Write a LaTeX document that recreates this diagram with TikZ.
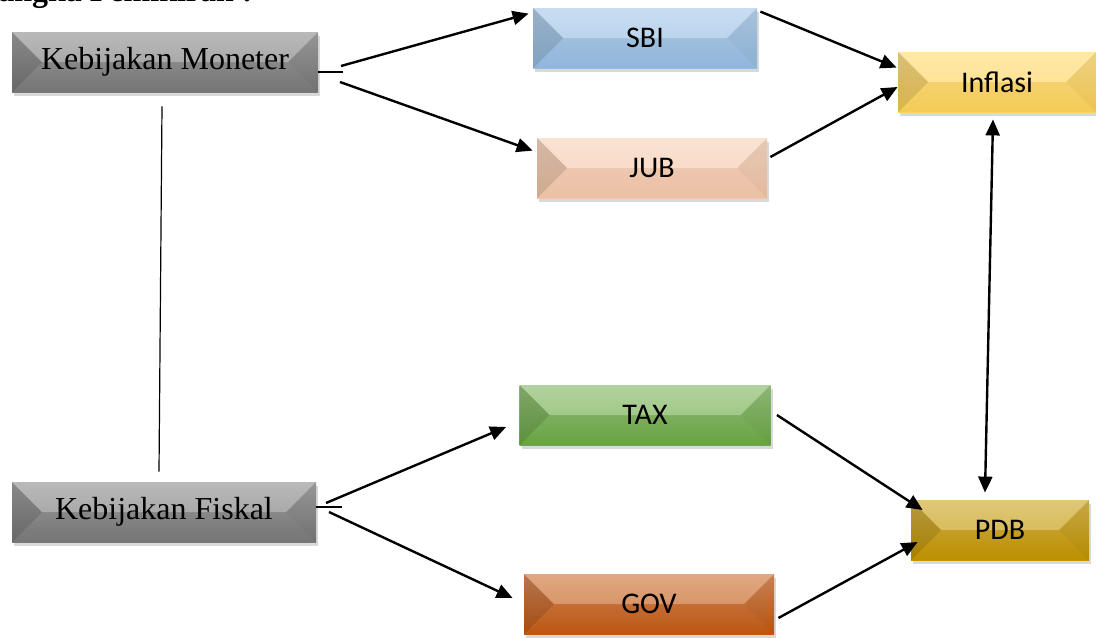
\documentclass[tikz,border=0pt]{standalone}
\usepackage{fontspec}
\setmainfont{Liberation Serif}
\newfontfamily\calibri{Carlito}
\usetikzlibrary{arrows.meta,shadows}
\definecolor{grayc}{RGB}{122,122,122}
\definecolor{sbic}{RGB}{150,190,228}
\definecolor{jubc}{RGB}{246,200,170}
\definecolor{infc}{RGB}{255,212,90}
\definecolor{taxc}{RGB}{108,170,70}
\definecolor{govc}{RGB}{196,90,20}
\definecolor{pdbc}{RGB}{196,150,0}
\begin{document}
\begin{tikzpicture}[x=0.5pt,y=-0.5pt,
  bevel/.style={inner sep=0pt, minimum height=30pt, top color=#1!70!white, bottom color=#1,
    drop shadow={shadow xshift=1pt, shadow yshift=-2pt, opacity=.25, fill=black!60},
    path picture={
      \fill[black,opacity=.15] (path picture bounding box.north west) -- ++(15pt,-15pt) -- (path picture bounding box.south west) -- cycle;
      \fill[black,opacity=.07] (path picture bounding box.north east) -- ++(-15pt,-15pt) -- (path picture bounding box.south east) -- cycle;
      \fill[white,opacity=.25] (path picture bounding box.north west) -- ++(15pt,-15pt) -- ([xshift=-15pt,yshift=-15pt]path picture bounding box.north east) -- (path picture bounding box.north east) -- cycle;
      \fill[black,opacity=.04] (path picture bounding box.south west) -- ++(15pt,15pt) -- ([xshift=-15pt,yshift=15pt]path picture bounding box.south east) -- (path picture bounding box.south east) -- cycle;
    }},
  serifbox/.style={bevel=grayc, font=\fontsize{16}{19}\selectfont},
  sansbox/.style={bevel=#1, font=\calibri\fontsize{15}{18}\selectfont},
  arr/.style={line width=1.2pt, -{Triangle[length=8pt,width=7pt]}},
  dblarr/.style={line width=1.2pt, {Triangle[length=8pt,width=7pt]}-{Triangle[length=8pt,width=7pt]}}]
\useasboundingbox (0,0) rectangle (1096,637);

\node[anchor=base west, inner sep=0pt, font=\bfseries\fontsize{16}{19}\selectfont] (title) at (-2,2) {angka Pemikiran :};

\node[serifbox, minimum width=153pt] (mon) at (165,62) {Kebijakan Moneter};
\node[serifbox, minimum width=152pt] (fis) at (164,512) {Kebijakan Fiskal};
\node[sansbox=sbic, minimum width=112pt] (sbi) at (645,38) {SBI};
\node[sansbox=jubc, minimum width=115pt] (jub) at (652,168) {JUB};
\node[sansbox=infc, minimum width=99pt] (inf) at (997,82) {Inflasi};
\node[sansbox=taxc, minimum width=125.5pt] (tax) at (645,415) {TAX};
\node[sansbox=govc, minimum width=125pt] (gov) at (649,604) {GOV};
\node[sansbox=pdbc, minimum width=89pt] (pdb) at (1000,530) {PDB};

\coordinate (mfork) at (343,72);
\coordinate (mup) at (341,66);
\coordinate (mdn) at (340,82);
\coordinate (ffork) at (342,507);
\coordinate (fup) at (326,503);
\coordinate (fdn) at (329,512);

\draw[line width=.6pt] ([yshift=-5pt]mon.east) -- (mfork);
\draw[arr] (mup) -- ([xshift=-2pt,yshift=-3pt]sbi.north west);
\draw[arr] (mdn) -- ([xshift=-2pt,yshift=-6.5pt]jub.north west);
\draw[arr] ([xshift=1.5pt,yshift=-2pt]sbi.north east) -- ([xshift=-.5pt,yshift=-8pt]inf.north west);
\draw[arr] ([xshift=1.5pt,yshift=5.5pt]jub.east) -- ([yshift=-2.5pt]inf.west);
\draw[dblarr] ([xshift=-2pt,yshift=-3.5pt]inf.south) -- ([xshift=-7.5pt,yshift=3.5pt]pdb.north);
\draw[line width=.6pt] ([xshift=-1.5pt,yshift=-7pt]mon.south) -- ([xshift=-2.5pt,yshift=5pt]fis.north);
\draw[line width=.6pt] ([yshift=2.5pt]fis.east) -- (ffork);
\draw[arr] (fup) -- ([xshift=-6.5pt,yshift=-6pt]tax.west);
\draw[arr] (fdn) -- ([xshift=-5.5pt,yshift=3pt]gov.west);
\draw[arr] ([xshift=3pt]tax.east) -- ([xshift=6pt,yshift=10pt]pdb.west);
\draw[arr] ([xshift=2pt,yshift=-7pt]gov.east) -- ([xshift=3.5pt,yshift=-6pt]pdb.west);
\end{tikzpicture}
\end{document}
